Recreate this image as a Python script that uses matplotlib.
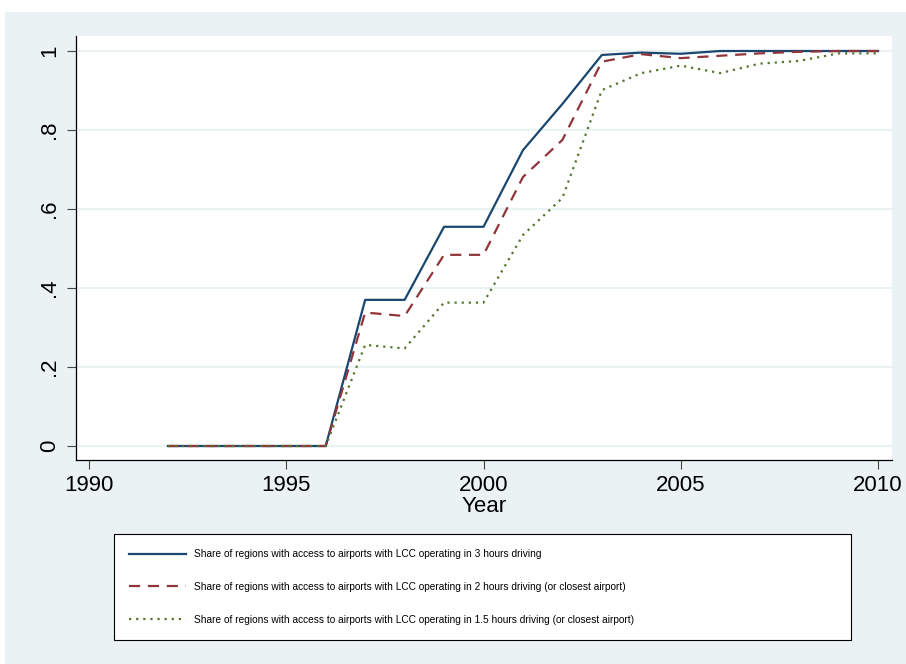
import matplotlib
matplotlib.use('Agg')
import matplotlib.pyplot as plt
from matplotlib.patches import Rectangle

years = list(range(1992, 2011))

share_3h = [0, 0, 0, 0, 0, 0.370, 0.370, 0.555, 0.555, 0.749, 0.866, 0.990,
            0.996, 0.993, 1.0, 1.0, 1.0, 1.0, 1.0]
share_2h = [0, 0, 0, 0, 0, 0.338, 0.329, 0.484, 0.484, 0.681, 0.775, 0.973,
            0.992, 0.982, 0.988, 0.994, 0.998, 1.0, 1.0]
share_15h = [0, 0, 0, 0, 0, 0.256, 0.247, 0.363, 0.363, 0.534, 0.628, 0.901,
             0.944, 0.963, 0.944, 0.968, 0.975, 0.994, 0.994]

labels = [
    'Share of regions with access to airports with LCC operating in 3 hours driving',
    'Share of regions with access to airports with LCC operating in 2 hours driving (or closest airport)',
    'Share of regions with access to airports with LCC operating in 1.5 hours driving (or closest airport)',
]

xticks = [1990, 1995, 2000, 2005, 2010]
yticks = [0, 0.2, 0.4, 0.6, 0.8, 1.0]
ytick_labels = ['0', '.2', '.4', '.6', '.8', '1']

W, H = 906, 664
bg = '#EAF2F3'
plt.rcParams['font.family'] = ['Liberation Sans', 'DejaVu Sans']

fig = plt.figure(figsize=(W / 100, H / 100), dpi=100)
fig.patch.set_facecolor('white')
fig.patches.append(Rectangle((5 / W, 0), 1 - 5 / W, 1 - 12 / H,
                             transform=fig.transFigure, facecolor=bg,
                             edgecolor='none', zorder=-10))

ax = fig.add_axes([76 / W, 1 - 460 / H, (892 - 76) / W, (460 - 36) / H])
ax.set_facecolor('white')

ax.plot(years, share_3h, color='#1A476F', lw=1.6, label=labels[0])
ax.plot(years, share_2h, color='#90353B', lw=1.6, dashes=(5, 3.5), label=labels[1])
ax.plot(years, share_15h, color='#55752F', lw=1.6, dashes=(1, 2.2),
        dash_capstyle='butt', label=labels[2])

ax.set_xlim(1989.67, 2010.355)
ax.set_ylim(-0.0354, 1.038)
ax.set_xticks(xticks)
ax.set_yticks(yticks)
ax.set_yticklabels(ytick_labels)
ax.yaxis.grid(True, color=bg, lw=1.6)
ax.set_axisbelow(True)

for s in ['top', 'right']:
    ax.spines[s].set_visible(False)
for s in ['left', 'bottom']:
    ax.spines[s].set_color('black')
    ax.spines[s].set_linewidth(0.9)

ax.tick_params(axis='both', length=6.5, width=0.8, color='#444444',
               labelsize=16, pad=4)
ax.tick_params(axis='y', labelrotation=90, pad=5)
for t in ax.get_yticklabels():
    t.set_va('center')

ax.set_xlabel('Year', fontsize=16, labelpad=0)

# legend box spans x 114..851, y 534..641 (pixels from top-left)
leg = fig.legend(loc='upper left',
                 bbox_to_anchor=(114 / W, 1 - 641 / H, (851 - 114) / W, (641 - 534) / H),
                 mode='expand', borderaxespad=0, ncols=1,
                 prop={'family': ['Liberation Sans Narrow', 'Liberation Sans'], 'size': 7.3},
                 handlelength=5.6, handletextpad=0.8, labelspacing=2.25,
                 borderpad=1.5, fancybox=False, framealpha=1,
                 edgecolor='black', facecolor='white')
leg.get_frame().set_linewidth(0.8)

fig.savefig('out.png', dpi=100)
